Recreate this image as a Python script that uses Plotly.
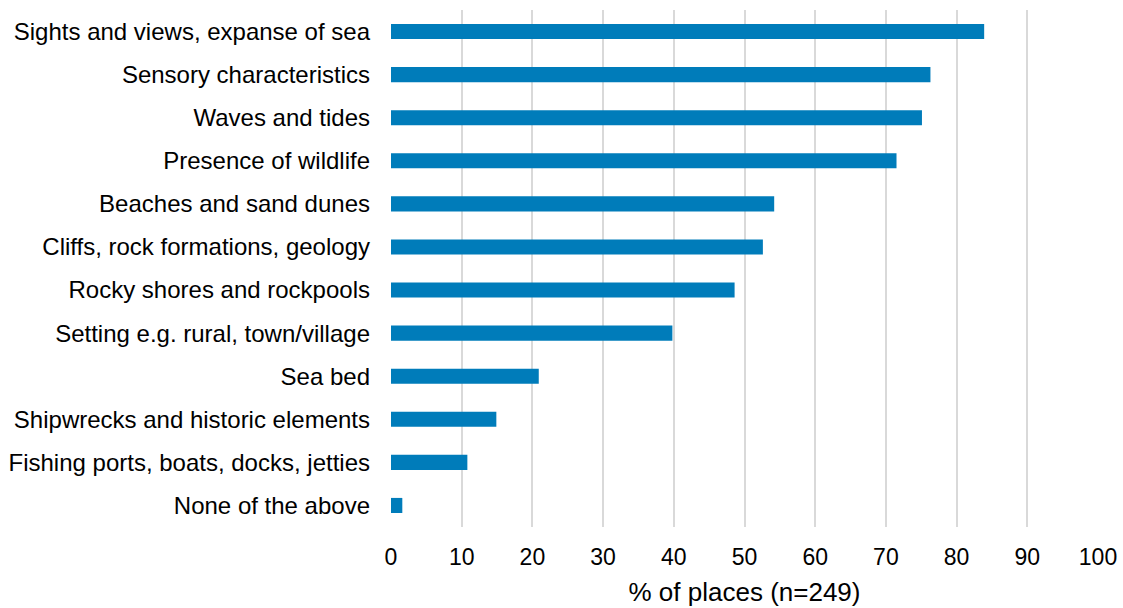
import plotly.graph_objects as go

categories = [
    "Sights and views, expanse of sea",
    "Sensory characteristics",
    "Waves and tides",
    "Presence of wildlife",
    "Beaches and sand dunes",
    "Cliffs, rock formations, geology",
    "Rocky shores and rockpools",
    "Setting e.g. rural, town/village",
    "Sea bed",
    "Shipwrecks and historic elements",
    "Fishing ports, boats, docks, jetties",
    "None of the above",
]
values = [83.9, 76.3, 75.1, 71.5, 54.2, 52.6, 48.6, 39.8, 20.9, 14.9, 10.8, 1.6]
x_ticks = [0, 10, 20, 30, 40, 50, 60, 70, 80, 90, 100]
x_title = "% of places (n=249)"

fig = go.Figure(
    go.Bar(
        x=values,
        y=categories,
        orientation="h",
        marker=dict(color="#007CBA", line=dict(width=0)),
        width=0.35,
    )
)

fig.update_layout(
    width=1123,
    height=608,
    margin=dict(l=391, r=25, t=10, b=81),
    paper_bgcolor="white",
    plot_bgcolor="white",
    font=dict(family="Liberation Sans, Arial, sans-serif", color="#000000"),
    showlegend=False,
)

fig.update_xaxes(
    range=[0, 100],
    tickvals=x_ticks,
    showgrid=True,
    gridcolor="#D9D9D9",
    gridwidth=1.5,
    zeroline=False,
    showline=False,
    tickfont=dict(size=23),
    ticklabelstandoff=14,
    automargin=False,
    title=dict(text=x_title, font=dict(size=26), standoff=13),
)

fig.update_yaxes(
    categoryorder="array",
    categoryarray=categories[::-1],
    autorange=False,
    range=[-0.5, len(categories) - 0.5],
    showgrid=False,
    zeroline=False,
    showline=False,
    tickfont=dict(size=24),
    ticklabelstandoff=20,
    automargin=False,
)

fig.write_html("out.html")
